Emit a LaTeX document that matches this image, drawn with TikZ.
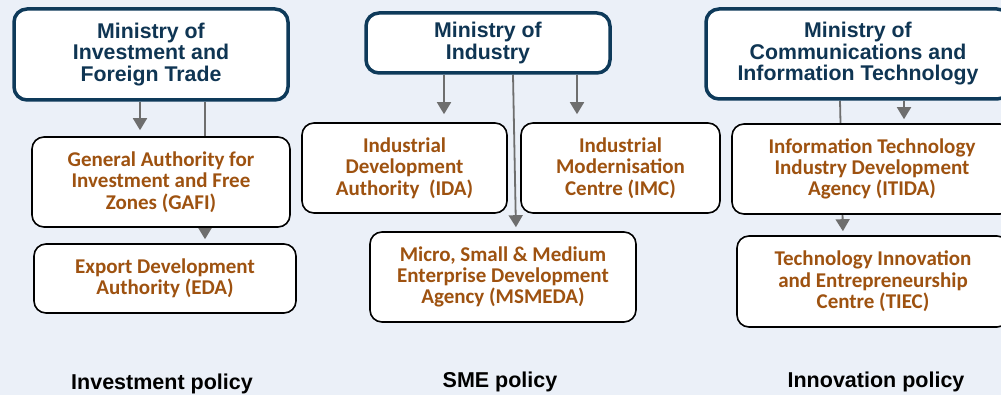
\documentclass[tikz,border=0pt]{standalone}
\usepackage{fontspec}
\setmainfont{Liberation Sans}
\newfontfamily\agfont{Carlito}
\usetikzlibrary{arrows.meta}
\definecolor{bgc}{HTML}{EBF0F8}
\definecolor{navy}{HTML}{0E3A5A}
\definecolor{navytxt}{HTML}{0F3553}
\definecolor{brown}{HTML}{9E5210}
\definecolor{arrc}{HTML}{6E6E6E}
\pgfdeclarelayer{bg}
\pgfsetlayers{bg,main}
\tikzset{
  ministry/.style={draw=navy, line width=3.5pt, rounded corners=13pt, fill=white,
    text=navytxt, align=center, font=\bfseries\fontsize{21.3}{21.5}\selectfont, inner sep=0pt},
  agency/.style={draw=black, line width=1.6pt, rounded corners=12pt, fill=white,
    text=brown, align=center, font=\agfont\bfseries\fontsize{21}{21.3}\selectfont, inner sep=0pt},
  policy/.style={text=black, font=\bfseries\fontsize{21.5}{22}\selectfont, inner sep=0pt},
  arr/.style={draw=arrc, line width=1.8pt, -{Triangle[width=14pt,length=12pt]}},
}
\begin{document}
\begin{tikzpicture}[x=1pt,y=-1pt]
\useasboundingbox (0,0) rectangle (1001,395);
\clip (0,0) rectangle (1001,395);
% ministries
\node[ministry, minimum width=274pt, minimum height=91pt] (mift) at (151,54.5) {Ministry of\\Investment and\\Foreign Trade};
\node[ministry, minimum width=244pt, minimum height=60pt] (moi) at (488,43) {Ministry of\\Industry};
\node[ministry, minimum width=304pt, minimum height=90pt] (mcit) at (858,54) {Ministry of\\Communications and\\Information Technology};
% agencies
\node[agency, minimum width=258pt, minimum height=90pt] (gafi) at (161,182) {General Authority for\\Investment and Free\\Zones (GAFI)};
\node[agency, minimum width=262pt, minimum height=69pt] (eda) at (165,278.5) {Export Development\\Authority (EDA)};
\node[agency, minimum width=205pt, minimum height=90pt] (ida) at (404.5,168) {Industrial\\Development\\Authority~~(IDA)};
\node[agency, minimum width=199pt, minimum height=90pt] (imc) at (620.5,168) {Industrial\\Modernisation\\Centre (IMC)};
\node[agency, minimum width=266pt, minimum height=90pt] (msmeda) at (503,277) {Micro, Small \& Medium\\Enterprise Development\\Agency (MSMEDA)};
\node[agency, minimum width=280pt, minimum height=90pt] (itida) at (872,169) {Information Technology\\Industry Development\\Agency (ITIDA)};
\node[agency, minimum width=272pt, minimum height=91pt] (tiec) at (873,281.5) {Technology Innovation\\and Entrepreneurship\\Centre (TIEC)};
% policy labels
\node[policy] (p1) at (162,384) {Investment policy};
\node[policy] (p2) at (500,382) {SME policy};
\node[policy] (p3) at (876,382) {Innovation policy};
% connectors
\begin{pgfonlayer}{bg}
\fill[bgc] (0,0) rectangle (1001,395);
\draw[arr, shorten >=6pt] (mift.south -| 140,0) -- (gafi.north -| 140,0);
\draw[arr, shorten >=4pt] (mift.south -| 205,0) -- (eda.north -| 205,0);
\draw[arr, shorten >=8pt] (moi.south -| 444,0) -- (ida.north -| 444,0);
\draw[arr, shorten >=8pt] (moi.south -| 577,0) -- (imc.north -| 577,0);
\draw[arr, shorten >=4pt] (moi.south -| 513,0) -- (msmeda.north -| 516,0);
\draw[arr, shorten >=4pt] (mcit.south -| 904,0) -- (itida.north -| 904,0);
\draw[arr, shorten >=4pt] (mcit.south -| 840,0) -- (tiec.north -| 843,0);
\end{pgfonlayer}
\end{tikzpicture}
\end{document}
